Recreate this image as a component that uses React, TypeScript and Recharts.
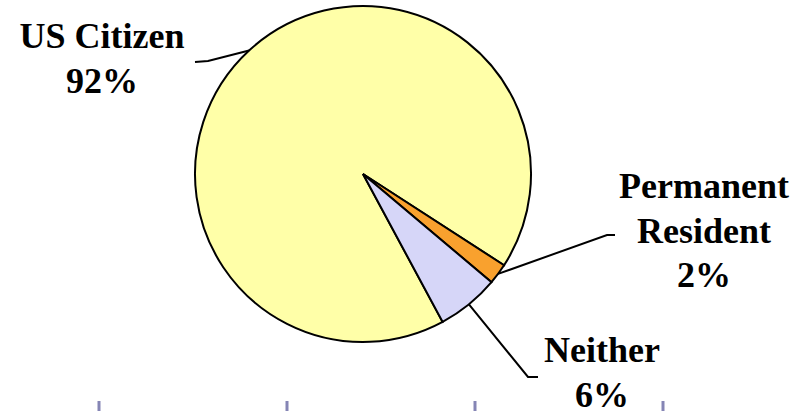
import { PieChart, Pie, Cell } from "recharts";

const categories = ["US Citizen", "Permanent Resident", "Neither"];
const shares = [92, 2, 6];
// how the category names wrap inside the data labels
const labelNames = [["US Citizen"], ["Permanent", "Resident"], ["Neither"]];

const colors = ["#FFFFA8", "#F9A12E", "#D6D6F8"];

// where each data label sits (text centre x, first baseline y) and its leader line bend/end
const labelLayout = [
  { x: 102, y: 48, elbow: [208, 61], end: [195, 62] },
  { x: 704, y: 198, elbow: [607, 235], end: [615, 235] },
  { x: 602, y: 362, elbow: [528, 377], end: [538, 377] },
];

// slide background ruler ticks along the bottom edge
const rulerTicks = [99, 287, 475, 663];

const data = categories.map((name, i) => ({ name, value: shares[i] }));

const RADIAN = Math.PI / 180;
const SERIF = "'Liberation Serif', Tinos, 'Times New Roman', 'DejaVu Serif', serif";

function renderLabel(props: any) {
  const { cx, cy, midAngle, outerRadius, index, value } = props;
  const layout = labelLayout[index];
  const sx = cx + outerRadius * Math.cos(-midAngle * RADIAN);
  const sy = cy + outerRadius * Math.sin(-midAngle * RADIAN);
  const lines = [...labelNames[index], `${value}%`];
  return (
    <g key={`label-${index}`}>
      <polyline
        points={`${sx},${sy} ${layout.elbow[0]},${layout.elbow[1]} ${layout.end[0]},${layout.end[1]}`}
        fill="none"
        stroke="#000"
        strokeWidth={2}
      />
      <text
        x={layout.x}
        y={layout.y}
        textAnchor="middle"
        style={{ fontFamily: SERIF, fontWeight: 700, fontSize: 36 }}
        fill="#000"
      >
        {lines.map((l, i) => (
          <tspan key={i} x={layout.x} dy={i === 0 ? 0 : 44.5}>
            {l}
          </tspan>
        ))}
      </text>
    </g>
  );
}

export default function App() {
  return (
    <div style={{ position: "fixed", left: 0, top: 0, width: 809, height: 411, background: "#fff" }}>
      <PieChart width={809} height={411} margin={{ top: 0, right: 0, bottom: 0, left: 0 }}>
        <Pie
          data={data}
          dataKey="value"
          nameKey="name"
          cx={363}
          cy={174}
          outerRadius={168}
          startAngle={-61.7}
          endAngle={-421.7}
          stroke="#000"
          strokeWidth={2}
          label={renderLabel}
          labelLine={false}
          isAnimationActive={false}
        >
          {data.map((d, i) => (
            <Cell key={d.name} fill={colors[i]} />
          ))}
        </Pie>
      </PieChart>
      <svg width={809} height={411} style={{ position: "absolute", left: 0, top: 0, pointerEvents: "none" }}>
        {rulerTicks.map((x) => (
          <line key={x} x1={x} x2={x} y1={401} y2={411} stroke="#8585B5" strokeWidth={3} />
        ))}
      </svg>
    </div>
  );
}
